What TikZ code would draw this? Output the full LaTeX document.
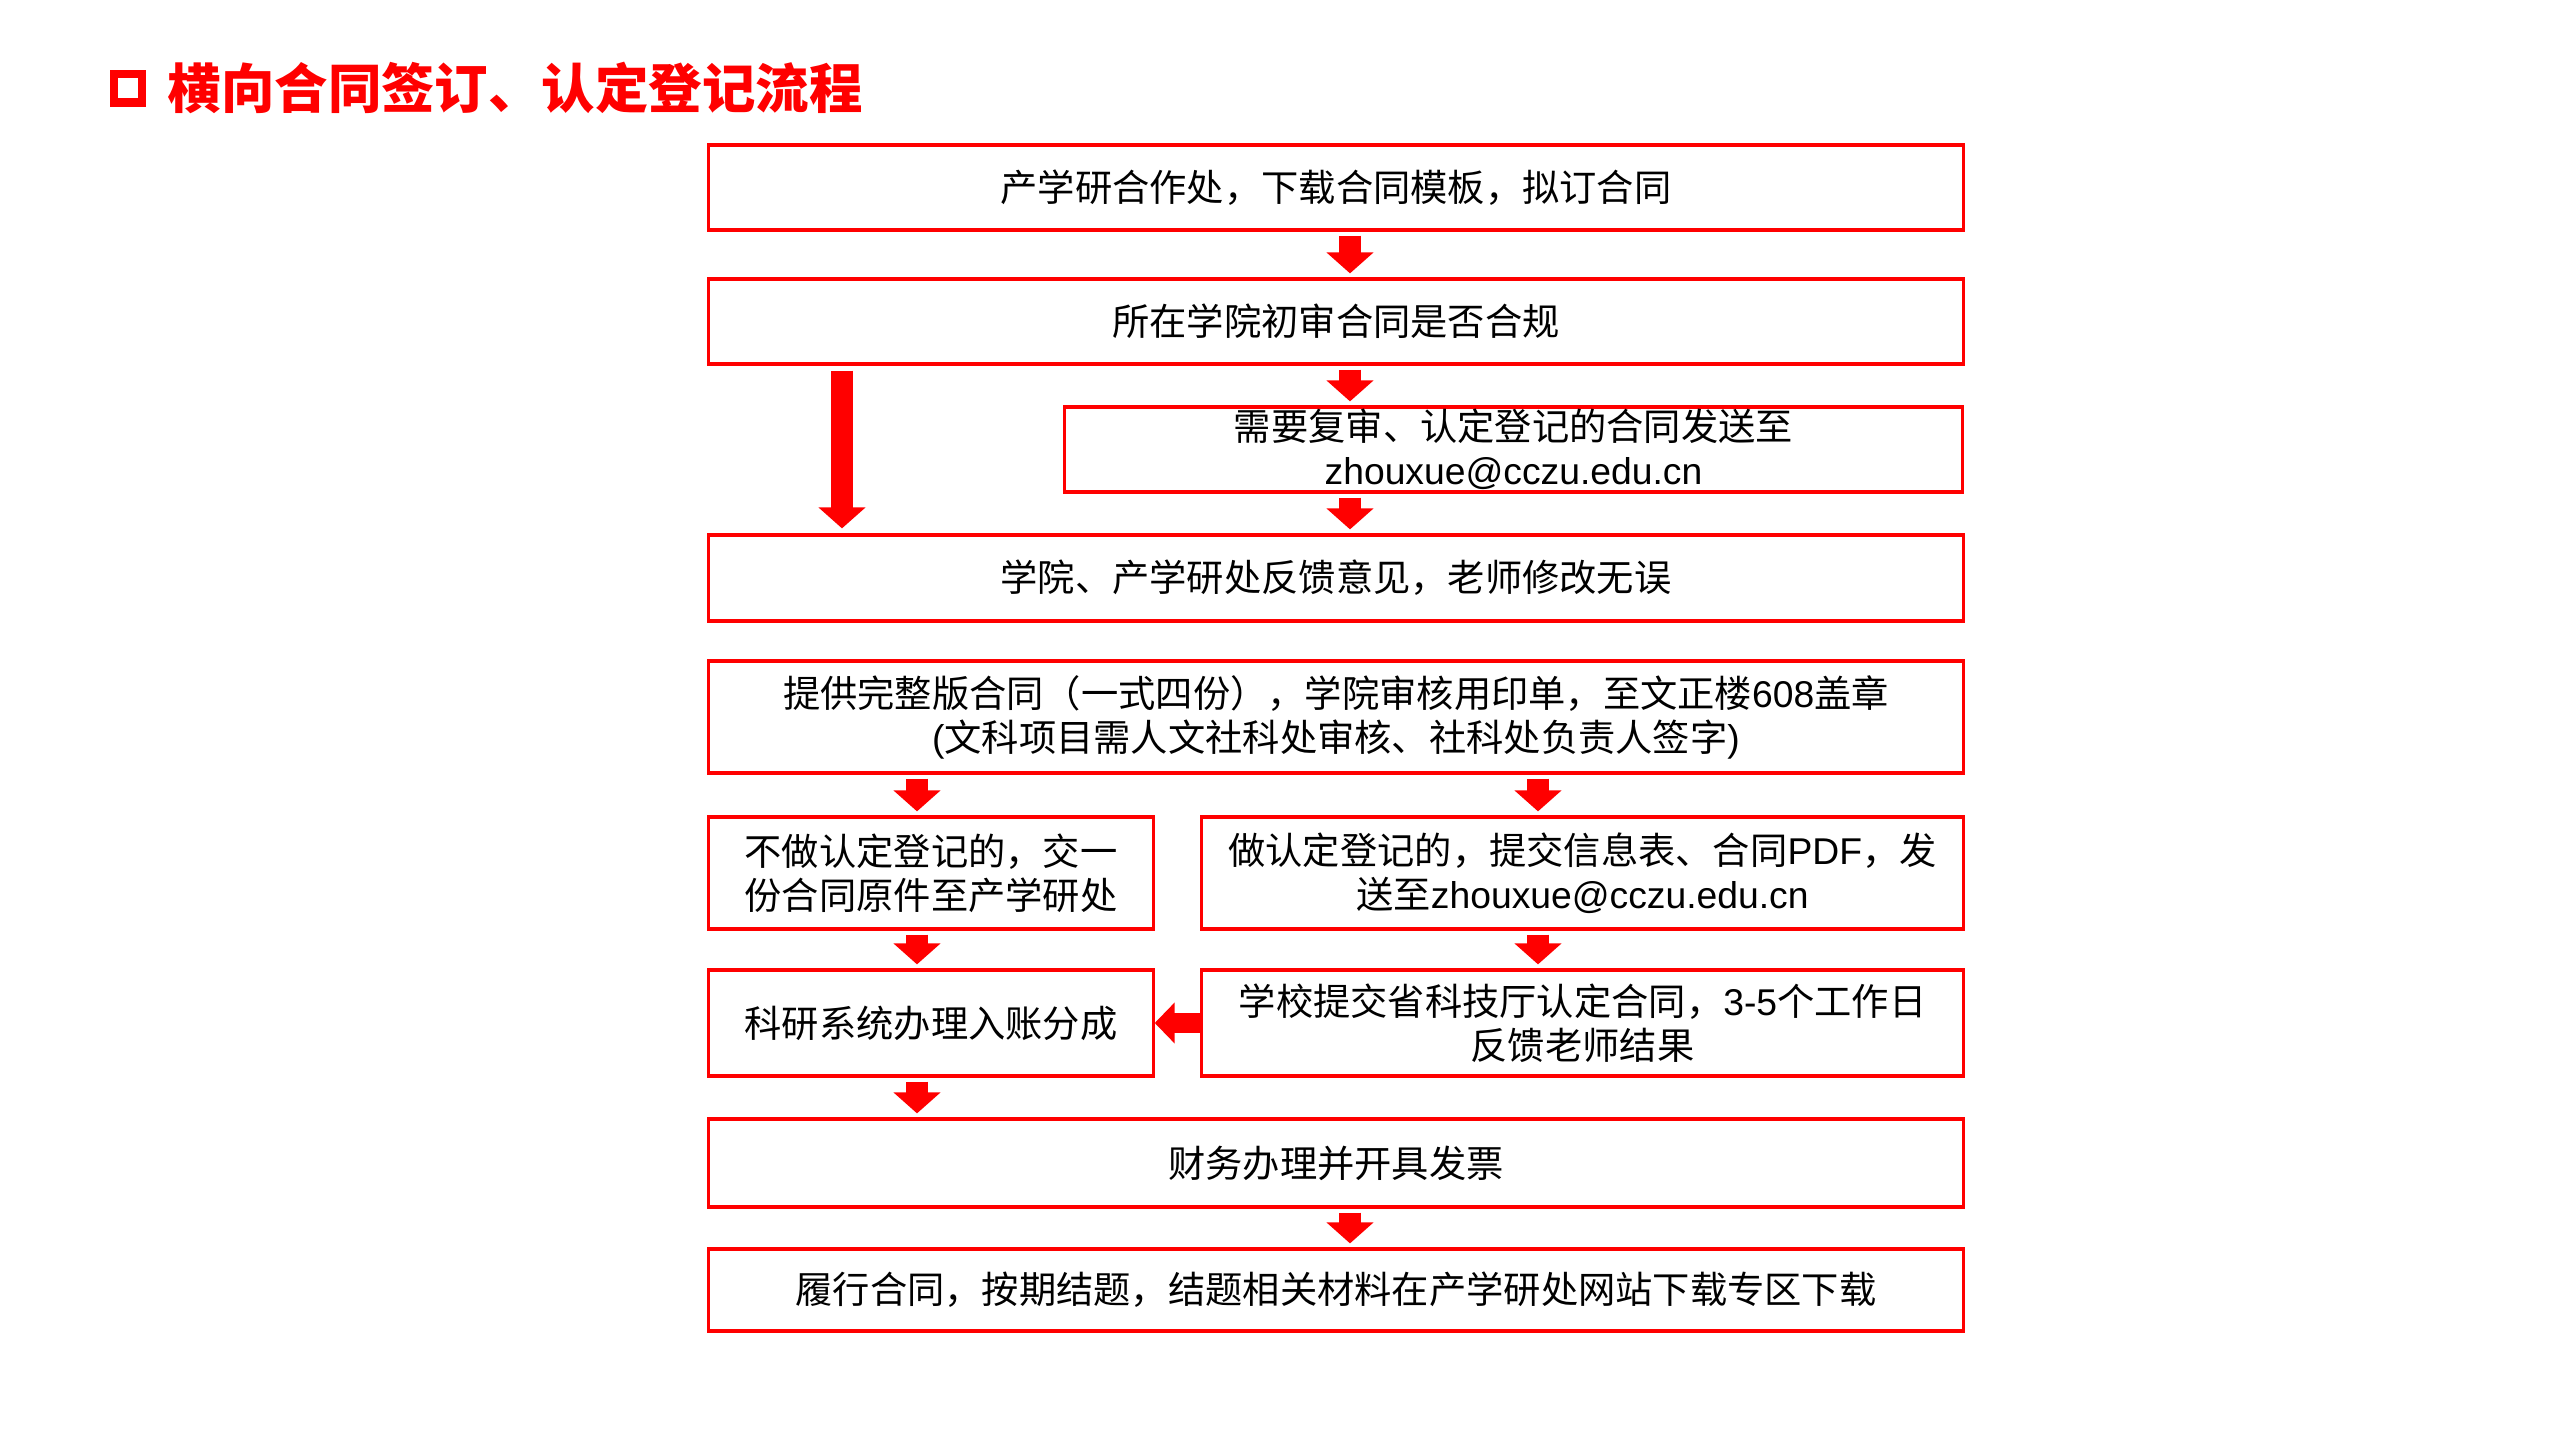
\documentclass[tikz,border=0pt]{standalone}
\usepackage{fontspec}
\setmainfont{Liberation Sans}
\newfontfamily\cjk{Noto Sans CJK SC}
\newfontfamily\arial{Liberation Sans}
\usepackage{tikz}
\usetikzlibrary{arrows.meta}
\newcommand{\en}[1]{{\arial #1}}

\begin{document}
\begin{tikzpicture}[x=0.01cm, y=-0.01cm,
  etape/.style={draw=red, line width=0.9pt, inner sep=0pt, align=center,
    font=\cjk\fontsize{10.6pt}{12.5pt}\selectfont},
  pleine/.style={etape, minimum width=12.54cm},
  fleche/.style={red, line width=0.22cm, -{Triangle[width=0.46cm, length=0.21cm]},
    shorten <=0.04cm, shorten >=0.04cm}]
\useasboundingbox (0,0) rectangle (2560,1440);

% Titre
\node[draw=red, line width=0.08cm, minimum size=0.28cm, inner sep=0pt] (puce) at (128,88.5) {};
\node[anchor=west, inner sep=0pt, text=red, font=\cjk\bfseries\fontsize{15.2pt}{18pt}\selectfont] (titre) at (167,88) {横向合同签订、认定登记流程};

% Etapes
\node[pleine, minimum height=0.85cm] (modele) at (1336,187.5) {产学研合作处，下载合同模板，拟订合同};
\node[pleine, minimum height=0.85cm] (college) at (1336,321.5) {所在学院初审合同是否合规};
\node[etape, minimum width=8.97cm, minimum height=0.85cm] (envoi) at (1513.5,449.5) {需要复审、认定登记的合同发送至\\\en{zhouxue@cczu.edu.cn}};
\node[pleine, minimum height=0.86cm] (avis) at (1336,578) {学院、产学研处反馈意见，老师修改无误};
\node[pleine, minimum height=1.12cm] (sceau) at (1336,717) {提供完整版合同（一式四份），学院审核用印单，至文正楼\en{608}盖章\\\en{(}文科项目需人文社科处审核、社科处负责人签字\en{)}};

% Deux colonnes
\node[etape, minimum width=4.44cm, minimum height=1.12cm] (sans) at (931,873) {不做认定登记的，交一\\份合同原件至产学研处};
\node[etape, minimum width=7.61cm, minimum height=1.12cm] (avec) at (1582.5,873) {做认定登记的，提交信息表、合同\en{PDF}，发\\送至\en{zhouxue@cczu.edu.cn}};
\node[etape, minimum width=4.44cm, minimum height=1.06cm] (compte) at (931,1023) {科研系统办理入账分成};
\node[etape, minimum width=7.61cm, minimum height=1.06cm] (province) at (1582.5,1023) {学校提交省科技厅认定合同，\en{3-5}个工作日\\反馈老师结果};

\node[pleine, minimum height=0.88cm] (facture) at (1336,1163) {财务办理并开具发票};
\node[pleine, minimum height=0.82cm] (fin) at (1336,1290) {履行合同，按期结题，结题相关材料在产学研处网站下载专区下载};

% Colonnes des fleches
\coordinate (cmid) at (1350,0);
\coordinate (cskip) at (842,0);
\coordinate (cleft) at (917,0);
\coordinate (cright) at (1538,0);

% Fleches
\draw[fleche] (modele.south -| cmid) -- (college.north -| cmid);
\draw[fleche] (college.south -| cmid) -- (envoi.north -| cmid);
\draw[fleche] (envoi.south -| cmid) -- (avis.north -| cmid);
\draw[fleche, shorten <=0.05cm, shorten >=0.05cm] (college.south -| cskip) -- (avis.north -| cskip);
\draw[fleche] (sceau.south -| cleft) -- (sans.north -| cleft);
\draw[fleche] (sceau.south -| cright) -- (avec.north -| cright);
\draw[fleche] (sans.south -| cleft) -- (compte.north -| cleft);
\draw[fleche] (avec.south -| cright) -- (province.north -| cright);
\draw[fleche, line width=0.2cm, -{Triangle[width=0.4cm, length=0.2cm]}, shorten <=0pt, shorten >=0pt] (province.west) -- (compte.east);
\draw[fleche] (compte.south -| cleft) -- (facture.north -| cleft);
\draw[fleche] (facture.south -| cmid) -- (fin.north -| cmid);
\end{tikzpicture}
\end{document}
